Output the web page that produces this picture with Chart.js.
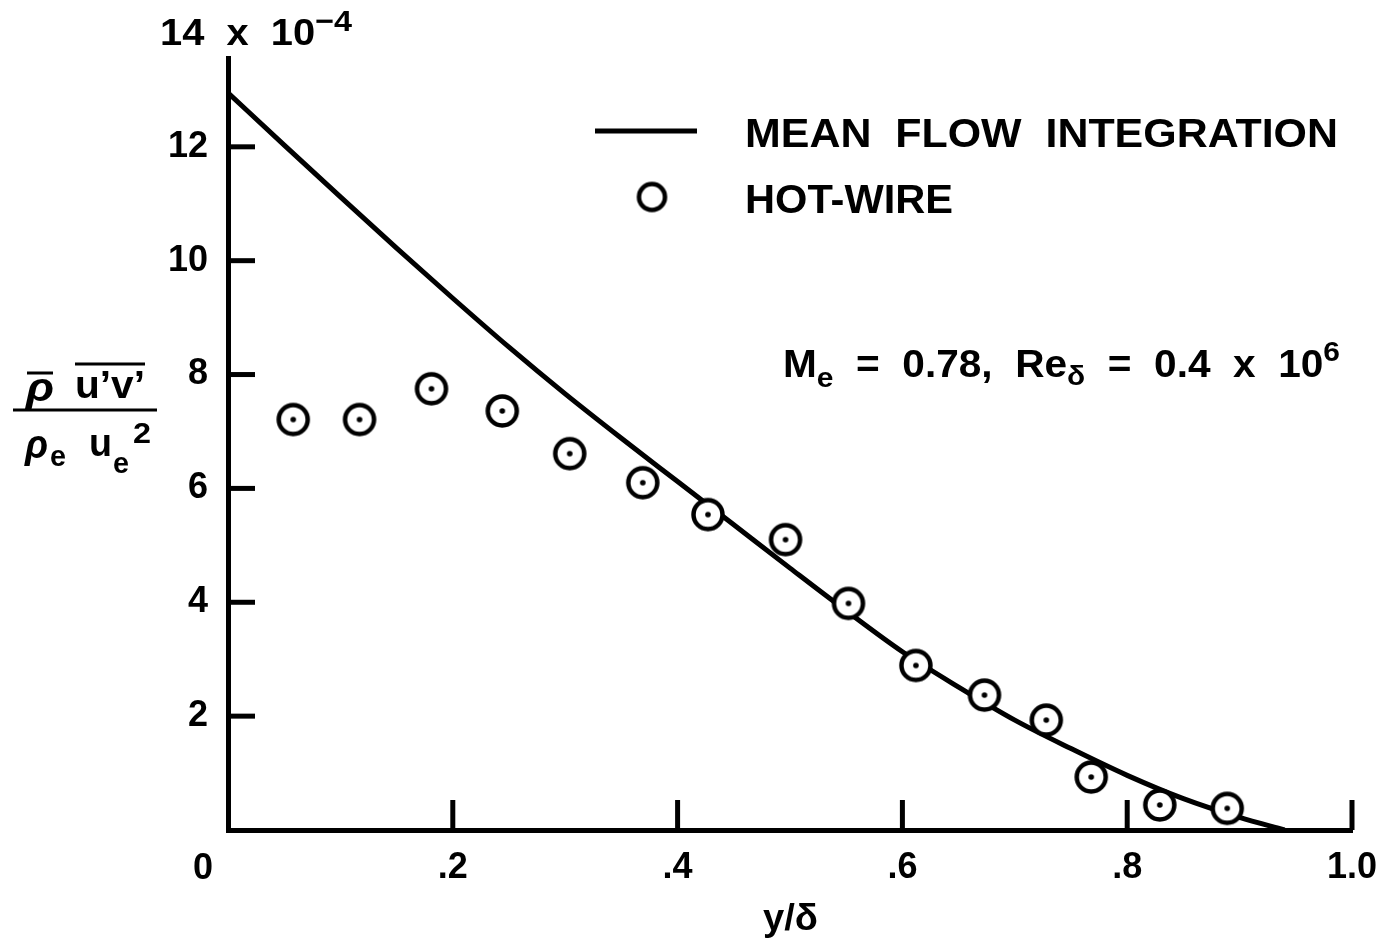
<!DOCTYPE html>
<html>
<head>
<meta charset="utf-8">
<script src="https://cdn.jsdelivr.net/npm/chart.js@4.4.0/dist/chart.umd.min.js"></script>
<style>
  body { margin: 0; background: #fff; }
  canvas { display: block; }
</style>
</head>
<body>
<canvas id="chart" width="1383" height="943"></canvas>
<script>
// mean flow integration curve (y/delta vs shear stress, x 1e-4)
const curveX = [0, 0.05, 0.1, 0.15, 0.2, 0.25, 0.3, 0.35, 0.4, 0.45, 0.5, 0.55, 0.6, 0.65, 0.7, 0.75, 0.8, 0.85, 0.9, 0.94];
const curveY = [12.95, 12.03, 11.12, 10.22, 9.34, 8.48, 7.66, 6.88, 6.12, 5.36, 4.6, 3.85, 3.13, 2.51, 1.93, 1.43, 0.96, 0.55, 0.22, 0];

// hot-wire measurements
const hotWireX = [0.058, 0.117, 0.181, 0.244, 0.304, 0.369, 0.427, 0.496, 0.552, 0.612, 0.673, 0.728, 0.768, 0.829, 0.889];
const hotWireY = [7.21, 7.21, 7.75, 7.36, 6.61, 6.10, 5.54, 5.10, 3.98, 2.89, 2.37, 1.93, 0.93, 0.44, 0.38];

const xTicks = [0.2, 0.4, 0.6, 0.8, 1.0];
const yTicks = [2, 4, 6, 8, 10, 12];
const seriesNames = ['MEAN  FLOW  INTEGRATION', 'HOT-WIRE'];

const FONT = "'Liberation Sans', Arial, sans-serif";

// circle with a dot in the middle, used as the point marker
function makeMarker(r, lw, withDot) {
  const c = document.createElement('canvas');
  c.width = c.height = Math.ceil(2 * r + lw + 2);
  const g = c.getContext('2d');
  const m = c.width / 2;
  g.beginPath();
  g.arc(m, m, r, 0, Math.PI * 2);
  g.fillStyle = '#fff';
  g.fill();
  g.lineWidth = lw;
  g.strokeStyle = '#000';
  g.stroke();
  if (withDot) {
    g.beginPath();
    g.arc(m, m, 2.8, 0, Math.PI * 2);
    g.fillStyle = '#000';
    g.fill();
  }
  return c;
}

// draw a row of text pieces, squeezed to a target width
function drawRuns(ctx, runs, x, base, width) {
  let total = 0;
  runs.forEach(r => {
    ctx.font = (r.style || 'bold') + ' ' + r.size + 'px ' + FONT;
    r.w = ctx.measureText(r.t).width;
    total += r.w;
  });
  const sx = width ? width / total : 1;
  ctx.save();
  ctx.translate(x, base);
  ctx.scale(sx, 1);
  ctx.fillStyle = '#000';
  ctx.textBaseline = 'alphabetic';
  ctx.textAlign = 'left';
  let cx = 0;
  runs.forEach(r => {
    ctx.font = (r.style || 'bold') + ' ' + r.size + 'px ' + FONT;
    ctx.fillText(r.t, cx, r.dy || 0);
    cx += r.w;
  });
  ctx.restore();
}

function hline(ctx, x1, x2, y, w) {
  ctx.beginPath();
  ctx.lineWidth = w;
  ctx.moveTo(x1, y);
  ctx.lineTo(x2, y);
  ctx.stroke();
}

const extras = {
  id: 'extras',
  afterDraw(chart) {
    const ctx = chart.ctx;
    const xs = chart.scales.x, ys = chart.scales.y;
    const x0 = xs.getPixelForValue(0), y0 = ys.getPixelForValue(0);
    ctx.save();
    ctx.strokeStyle = '#000';
    ctx.lineCap = 'butt';

    // inward tick marks
    ctx.lineWidth = 5;
    xTicks.forEach(v => {
      const px = xs.getPixelForValue(v);
      ctx.beginPath();
      ctx.moveTo(px, y0);
      ctx.lineTo(px, y0 - 30);
      ctx.stroke();
    });
    yTicks.forEach(v => {
      const py = ys.getPixelForValue(v);
      ctx.beginPath();
      ctx.moveTo(x0, py);
      ctx.lineTo(x0 + 27, py);
      ctx.stroke();
    });

    // origin label
    drawRuns(ctx, [{ t: '0', size: 36 }], x0 - 35, y0 + 49);

    // scale factor at the top of the y axis
    drawRuns(ctx, [{ t: '14  x  10', size: 37 }, { t: '−4', size: 30, dy: -14 }], 160, 45, 192);

    // axis titles
    drawRuns(ctx, [{ t: 'y/δ', size: 36 }], 763, 930, 55);

    drawRuns(ctx, [{ t: 'ρ', size: 40, style: 'italic bold' }], 26, 401, 28);
    hline(ctx, 27, 53, 373, 3);
    drawRuns(ctx, [{ t: 'u’v’', size: 38 }], 75, 398, 70);
    hline(ctx, 75, 145, 364, 3);
    hline(ctx, 13, 157, 410, 3);
    drawRuns(ctx, [{ t: 'ρ', size: 40, style: 'italic bold' }], 25, 458, 23);
    drawRuns(ctx, [{ t: 'e', size: 30 }], 50, 466, 16);
    drawRuns(ctx, [{ t: 'u', size: 38 }], 89, 456, 23);
    drawRuns(ctx, [{ t: 'e', size: 30 }], 113, 473, 16);
    drawRuns(ctx, [{ t: '2', size: 30 }], 133, 443, 18);

    // legend
    hline(ctx, 595, 697, 131, 5);
    drawRuns(ctx, [{ t: seriesNames[0], size: 40 }], 745, 147, 593);
    ctx.drawImage(legendMarker, 652 - legendMarker.width / 2, 197 - legendMarker.height / 2);
    drawRuns(ctx, [{ t: seriesNames[1], size: 40 }], 745, 213, 208);

    // flow conditions
    drawRuns(ctx, [
      { t: 'M', size: 38 }, { t: 'e', size: 28, dy: 10 },
      { t: '  =  0.78,  Re', size: 38 }, { t: 'δ', size: 28, dy: 8 },
      { t: '  =  0.4  x  10', size: 38 }, { t: '6', size: 28, dy: -16 }
    ], 783, 377, 557);

    ctx.restore();
  }
};

const pointMarker = makeMarker(14.5, 4.5, true);
const legendMarker = makeMarker(13, 4.5, false);

new Chart(document.getElementById('chart').getContext('2d'), {
  type: 'line',
  data: {
    datasets: [{
      label: seriesNames[1],
      data: hotWireX.map((x, i) => ({ x: x, y: hotWireY[i] })),
      showLine: false,
      pointStyle: pointMarker,
      order: 1
    }, {
      label: seriesNames[0],
      data: curveX.map((x, i) => ({ x: x, y: curveY[i] })),
      borderColor: '#000',
      borderWidth: 5,
      pointRadius: 0,
      cubicInterpolationMode: 'monotone',
      fill: false,
      order: 2
    }]
  },
  options: {
    responsive: false,
    animation: false,
    layout: { padding: { top: 58, right: 31, left: 0, bottom: 0 } },
    plugins: { legend: { display: false }, tooltip: { enabled: false } },
    scales: {
      x: {
        type: 'linear',
        min: 0,
        max: 1,
        afterFit: s => { s.height = 113; s.paddingLeft = 0; s.paddingRight = 0; },
        grid: { display: false, drawTicks: false },
        border: { display: true, color: '#000', width: 5 },
        ticks: {
          stepSize: 0.2,
          padding: 16,
          color: '#000',
          font: { family: FONT, size: 36, weight: 'bold' },
          callback: v => {
            const r = Math.round(v * 10) / 10;
            if (r === 0) return '';
            return r === 1 ? '1.0' : '.' + Math.round(r * 10);
          }
        }
      },
      y: {
        min: 0,
        max: 13.56,
        afterFit: s => { s.width = 228; s.paddingTop = 0; s.paddingBottom = 0; },
        grid: { display: false, drawTicks: false },
        border: { display: true, color: '#000', width: 5 },
        ticks: {
          stepSize: 2,
          padding: 20,
          color: '#000',
          font: { family: FONT, size: 36, weight: 'bold' },
          callback: v => (yTicks.includes(v) ? String(v) : '')
        }
      }
    }
  },
  plugins: [extras]
});
</script>
</body>
</html>
